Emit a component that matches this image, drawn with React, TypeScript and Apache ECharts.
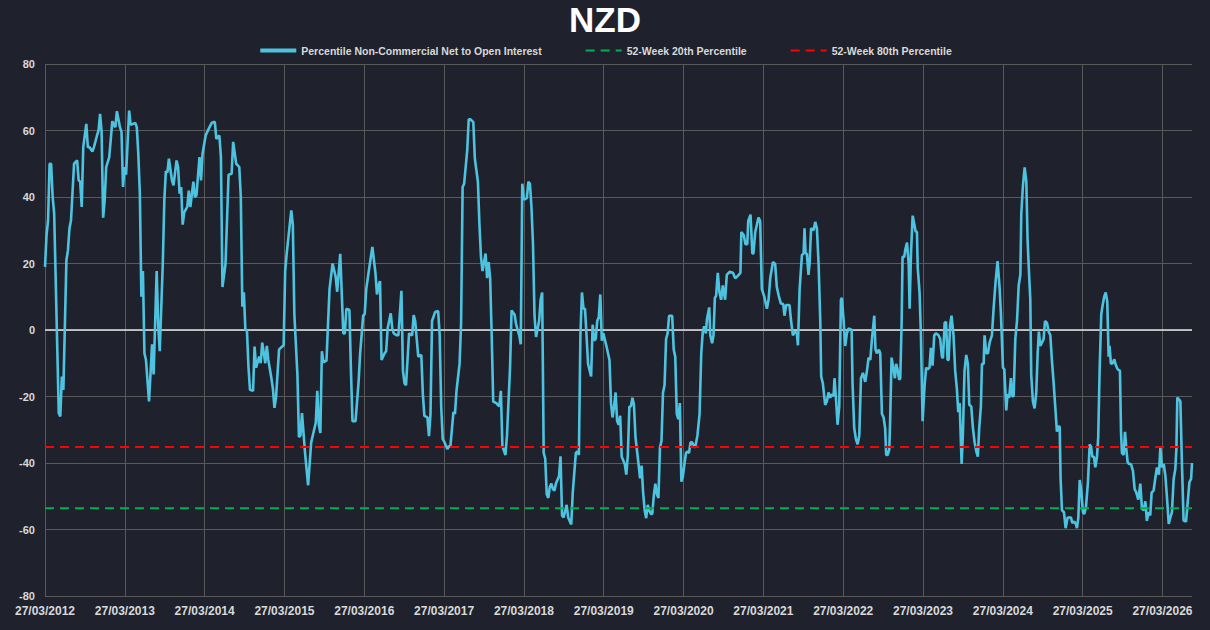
import React, { useEffect, useRef } from "react";
import * as echarts from "echarts";

const TITLE = "NZD";
const NAME_MAIN = "Percentile Non-Commercial Net to Open Interest";
const NAME_P20 = "52-Week 20th Percentile";
const NAME_P80 = "52-Week 80th Percentile";

// x = weeks since 27/03/2012
const START_YEAR = 2012;
const LABEL_DAY_MONTH = "27/03/";
const WEEKS_PER_YEAR = 365.25 / 7;
const Y_MIN = -80;
const Y_MAX = 80;
const Y_STEP = 20;

const pct20 = -53.6;
const pct80 = -35.2;
const zeroLevel = 0;

const seg2012: [number, number][] = [
  [0, 19], [1, 28.5], [2, 33], [3, 50], [4, 50], [5, 40], [6, 35], [9, -25], [10, -26], [11, -14], [12, -18],
  [14, 21], [15, 24], [16, 30.6], [17, 33], [19, 50], [21, 51], [22, 45], [23, 44.6], [24, 37], [25, 55],
  [27, 62], [28, 55], [29, 55], [31, 53.7], [32, 55], [34, 58.5], [35, 60], [36, 65], [37, 59.6], [38, 33.8],
  [39, 39], [40, 49], [42, 52], [44, 62.8], [45, 61.7], [46, 61], [47, 65.8], [49, 61], [50, 59.6], [51, 43],
];
const seg2013: [number, number][] = [
  [52, 49], [53, 46.7], [55, 66], [56, 61.7], [59, 62.3], [60, 61], [61, 53], [62, 41], [63, 10], [64, 17.7],
  [65, -7], [66, -9], [68, -21.5], [70, -4.3], [71, -13.4], [73, 17.7], [74, 1.6], [75, -6.4], [77, 19.9],
  [78, 39], [79, 47.8], [80, 47.3], [81, 51.5], [83, 45], [84, 43.5], [86, 51], [87, 49], [88, 41], [89, 43],
  [90, 31.7], [91, 35.4], [93, 37], [94, 41.9], [95, 37], [97, 44.6], [98, 40], [99, 40.5], [101, 52], [102, 45],
  [103, 53],
];
const seg2014: [number, number][] = [
  [105, 58.5], [107, 60.5], [109, 62.3], [111, 62.6], [112, 57.5], [114, 58.5], [115, 52], [116, 12.9],
  [118, 19.9], [120, 46.7], [122, 47], [123, 56.6], [125, 50], [126, 49.5], [127, 49], [128, 40], [129, 7],
  [130, 11.3], [131, 0], [132, 0], [133, -11], [134, -18], [136, -18.3], [137, -5], [138, -11.3], [140, -8],
  [141, -10], [142, -3.8], [144, -10], [145, -4.8], [146, -9], [148, -14.5], [149, -17.7], [150, -23.4],
  [151, -20.4], [153, -5.9], [154, -5.4],
];
const seg2015: [number, number][] = [
  [156, -4.6], [157, 17.7], [158, 23], [160, 31.7], [161, 36], [162, 31.7], [163, 4.8], [165, -13.4],
  [166, -32.2], [167, -31.7], [168, -25], [170, -37], [172, -46.7], [173, -40.3], [174, -33.8], [177, -27.9],
  [178, -18.3], [179, -28.5], [180, -31], [181, -6.4], [182, -9.7], [184, -9.2], [185, 1.6], [186, 12.3],
  [188, 20], [190, 16], [191, 11.5], [192, 17.2], [193, 22.9], [195, -1], [196, -1], [197, 6.4], [199, 6],
  [200, -12.3], [201, -27.4], [203, -27.4], [205, -15.6], [206, -7],
];
const seg2016: [number, number][] = [
  [208, 4.3], [209, 4.8], [210, 12.3], [212, 18.8], [214, 25], [216, 17.2], [217, 10.7], [218, 13.4],
  [219, 14.7], [220, -9], [222, -7], [223, -6.4], [224, 0.5], [226, 5], [227, 0.5], [228, -1], [230, -1.6],
  [231, -1.6], [233, 11.8], [234, -12.3], [235, -16], [236, -16.6], [238, -1], [240, -1.6], [241, 4.5],
  [242, 2.7], [243, -2.7], [244, -8], [246, -7.5], [247, -19.3], [248, -25.8], [250, -26.3], [251, -31.9],
  [252, -25.2], [253, 2.7], [255, 5.4], [257, 5.7],
];
const seg2017: [number, number][] = [
  [258, -1.6], [259, -23], [260, -32.8], [261, -33.6], [263, -35.8], [264, -35], [265, -35], [267, -24.7],
  [268, -25.2], [269, -18.3], [271, -10.2], [272, 2.1], [273, 43], [274, 44], [276, 54], [277, 63.4],
  [278, 63.4], [280, 62.5], [281, 51.5], [283, 44.6], [284, 31.7], [285, 22], [286, 17.7], [288, 23],
  [289, 15.6], [290, 20.4], [291, 15.6], [292, -1.6], [293, -21.5], [295, -22], [297, -23], [298, -18.3],
  [299, -34.9], [301, -37.6], [302, -31.7], [304, -11.3], [305, 5.9], [307, 4.6], [308, 1.6],
];
const seg2018: [number, number][] = [
  [310, -1.6], [311, -4.3], [312, 44], [313, 39.2], [315, 39.7], [316, 44.6], [317, 44], [318, 37],
  [319, 25.8], [320, 4.3], [321, -2.1], [323, 2.7], [324, 9.1], [325, 11.3], [326, -37], [327, -38.7],
  [328, -49.4], [329, -50.5], [330, -47.2], [331, -46.2], [332, -47.8], [333, -48.3], [334, -46.2], [336, -44],
  [337, -38], [338, -55.8], [339, -56.4], [341, -52.6], [342, -56.4], [344, -58.5], [345, -48.9], [347, -37],
  [348, -36.5], [349, -37.6], [350, -1.6], [351, 11.3], [352, 6.4], [353, 6.4], [354, -1.6], [355, -10.2],
  [357, -14], [358, 1.6], [359, -3.2], [360, -2.7],
];
const seg2019: [number, number][] = [
  [361, 2.7], [362, 3.8], [363, 10.7], [364, -3.2], [365, -1], [367, -4.8], [369, -9], [370, -22],
  [371, -26.3], [372, -23], [373, -18.8], [374, -27.4], [375, -28.5], [376, -25.8], [377, -38.1], [379, -40.3],
  [380, -43.5], [381, -37.6], [382, -23], [383, -23], [384, -20.4], [385, -22.5], [386, -32.2], [388, -40.3],
  [389, -44.6], [390, -40.8], [391, -48.9], [392, -54.2], [393, -56.6], [394, -52.6], [395, -54.2],
  [396, -55.3], [397, -55.3], [398, -49.7], [399, -46.2], [400, -49.4], [401, -50.5], [402, -35.4],
  [403, -33.3], [404, -18.8], [405, -16.6], [406, -2.7], [407, -1], [408, 4.3], [410, 4.3], [411, -5.9],
  [412, -8],
];
const seg2020: [number, number][] = [
  [413, -25.2], [414, -26.8], [415, -22], [416, -45.6], [417, -44], [418, -40.3], [419, -37], [420, -36.5],
  [421, -37], [422, -33.8], [423, -33.8], [425, -35.4], [426.5, -31.7], [427.9, -25.2], [429, -7], [430, -0.5],
  [430.9, 1.1], [432, -1], [432.7, 3.2], [434.2, 6.8], [434.9, -1.6], [436.1, -4], [437, -1.6], [437.9, 9.7],
  [438.7, 10.2], [439.8, 17.2], [440.9, 11.3], [442, 9.1], [443.1, 13.4], [444.6, 9.1], [445.7, 16.6],
  [447.5, 17.5], [449.7, 17.2], [451.2, 15.6], [452.3, 16], [454.6, 17.2], [455.2, 29.5], [456.8, 28.5],
  [457.9, 25.8], [459.1, 25.8], [459.7, 32.8], [461.2, 34.7], [462.4, 23], [463.1, 23],
];
const seg2021: [number, number][] = [
  [464.3, 29.5], [466.4, 33.8], [467.5, 32.8], [468.6, 12.3], [470.1, 10.2], [471.9, 6.4], [473, 9.1],
  [474.1, 15.6], [475.8, 20.4], [477.3, 19.9], [478.4, 12.9], [479.7, 10.2], [481, 8], [482.6, 7.8],
  [483.4, 4.3], [484.5, 7.5], [486.7, 7.5], [487.6, 3.2], [488.9, -1.6], [490.4, -0.5], [491.5, -1],
  [492.2, -4.6], [493.3, 12.3], [494.8, 22.5], [495.9, 23], [496.5, 30.6], [497.2, 23], [498, 23],
  [499.1, 16.6], [499.8, 19.9], [500.8, 30.6], [502.4, 30], [503.5, 32.5], [504.6, 30.6], [505.7, 19.9],
  [506.8, 2.7], [507.4, -14], [508.5, -16.1], [510, -22.5], [511.1, -21.5], [512.2, -18.8], [513.3, -20.4],
  [514.4, -19.3],
];
const seg2022: [number, number][] = [
  [515.5, -19.9], [516.1, -14.5], [517.2, -21.5], [518.1, -28.5], [519.2, -23], [520.3, 9.1], [520.9, 9.7],
  [522, 3.2], [523.1, -4.8], [524.2, -1], [525.3, 0.5], [527.3, 0], [527.9, -16.1], [529, -29.5],
  [530.1, -32.8], [531.2, -34.4], [532.3, -31.7], [533.4, -14.5], [534.7, -12.9], [536.2, -15.6],
  [537.3, -12.3], [538.4, -8.3], [539.5, -9], [540.5, -3.2], [542.1, 4.3], [542.9, -5.9], [543.8, -7],
  [545.1, -5.9], [546, -7], [547.1, -25.2], [548.2, -26.3], [549.2, -29.5], [549.9, -37.6], [550.8, -37.6],
  [551.9, -36], [552.5, -26.8], [553.4, -8.3], [554.7, -11.8], [555.6, -14.5], [556.4, -10.2], [557.3, -11.8],
  [558.4, -15], [559.1, -14.5], [560, 2.7], [560.6, 22], [561.7, 22], [562.4, 24.2], [563.5, 26.3],
  [564.6, 19.9], [565.2, 6.4],
];
const seg2023: [number, number][] = [
  [566.1, 23], [567.2, 34.4], [568.3, 31.7], [569.1, 29.7], [570, 29.5], [570.5, 18.8], [571.7, 11.3],
  [572.6, -1.6], [573.7, -27.4], [575, -16.6], [576, -11.3], [577.1, -11.8], [578.2, -11.3], [579.1, -5.4],
  [580.2, -10.7], [581.3, -1.6], [582.4, -1], [584.1, -1.6], [585.2, -2.7], [586.3, -8], [587, -8.5],
  [588.1, 2.1], [589, 2.5], [590, -9], [590.7, -9], [591.7, 1.6], [592.6, 4.3], [593.9, -1.6], [595, -12.3],
  [596.1, -17.7], [597, -24.7], [597.9, -22], [599.2, -40.3], [600, -31.7], [601.1, -12.3], [602.2, -7.5],
  [603.3, -10.2], [604.2, -22.5], [605.5, -23], [606.6, -29.5], [607.7, -33.8], [608.8, -36.5], [609.8, -38.1],
  [610.7, -29.5], [611.8, -23], [612.5, -10.2], [613.6, -10.2], [614.2, -1.6], [615.3, -7], [616.4, -7],
];
const seg2024: [number, number][] = [
  [617.5, -3.8], [619, -1.6], [620.1, 6.4], [621.4, 14.5], [622.7, 20.7], [624, 12.9], [624.9, 4.8],
  [626.2, -11.3], [627.1, -11.8], [628.4, -24.2], [629.2, -19.3], [630.3, -20.4], [631.4, -14.5],
  [632.3, -19.9], [633.2, -19.9], [634.3, -2.7], [635.4, 2.7], [636.5, 13.4], [637.6, 16.6], [638.2, 34.9],
  [639.3, 43.5], [640.4, 48.9], [641.5, 44.6], [642.3, 27.4], [643.2, 17.7], [644.1, 9.1], [644.7, -13.4],
  [645.8, -21.5], [646.9, -23.6], [648, -18.8], [648.9, -7], [649.7, -0.5], [650.6, -4.8], [651.7, -3.8],
  [652.8, -2.7], [653.7, 2.7], [655, 2.1], [656.1, -0.5], [657.2, -1.6], [658.2, -9], [659.3, -15.6],
  [660.4, -23], [661.5, -30.6], [662.2, -29], [663.3, -29], [663.9, -44.6], [664.8, -54.2], [666.1, -54.8],
  [667.2, -59.6],
];
const seg2025: [number, number][] = [
  [668.5, -56.4], [670.7, -56.4], [671.5, -58], [672.9, -57.6], [674, -58.5], [674.6, -59.6], [675.5, -56.4],
  [676.4, -45.1], [677.4, -48.3], [678.5, -54.8], [679.4, -55.3], [680.5, -53.2], [681.8, -45.6],
  [682.9, -34.4], [683.8, -35], [684.6, -38.1], [685.7, -38.1], [686.6, -41.3], [687.7, -38.1], [688.5, -32.2],
  [689.4, -12.3], [690.5, 4.8], [691.4, 7.5], [692.5, 10.2], [693.4, 11.3], [694.4, 8.6], [695.3, -8],
  [695.9, -4.8], [696.8, -10.2], [697.9, -10], [699, -8.8], [700.1, -10.7], [701.2, -11.8], [702.7, -12.3],
  [703.4, -30.6], [704, -37], [705.1, -37.6], [706, -30.6], [706.9, -36], [707.7, -39.7], [708.6, -40.3],
  [709.9, -40.3], [711.2, -42.4], [712.3, -47.8], [713.4, -48.9], [714.7, -51], [716, -46.2], [717.1, -53.7],
  [718.2, -54.2], [719.3, -51.5],
];
const seg2026: [number, number][] = [
  [720.3, -57.4], [721.4, -54.8], [722.5, -55.8], [723.4, -48.9], [724.7, -48.3], [725.8, -44.6],
  [726.9, -41.3], [728.2, -43.5], [729.1, -35.4], [730.2, -41.3], [731.3, -40.3], [732.4, -43.8],
  [733.5, -50.8], [734.6, -58.3], [735.7, -56.3], [736.7, -54.8], [737.8, -44.8], [738.9, -41.8],
  [739.6, -35.8], [740.2, -20.3], [741.5, -21], [742.2, -21.5], [743.2, -39.8], [744.3, -57.3], [745.9, -57.6],
  [747, -51.8], [748.1, -45.8], [749.2, -44.8], [749.8, -40],
];

const mainData: [number, number][] = [
  ...seg2012, ...seg2013, ...seg2014, ...seg2015, ...seg2016, ...seg2017, ...seg2018,
  ...seg2019, ...seg2020, ...seg2021, ...seg2022, ...seg2023, ...seg2024, ...seg2025, ...seg2026,
];

const X_MIN = mainData[0][0];
const X_MAX = mainData[mainData.length - 1][0];

const FONT = "'Liberation Sans', Arial, sans-serif";
const TEXT_COLOR = "#d9d9d9";
const GRID_COLOR = "#595959";
const BG = "#1f222d";
const MAIN_COLOR = "#4ec3df";

export default function App() {
  const ref = useRef<HTMLDivElement>(null);

  useEffect(() => {
    document.body.style.margin = "0";
    if (!ref.current) return;
    const chart = echarts.init(ref.current, null, { renderer: "svg" });
    const flat = (v: number): [number, number][] => [
      [X_MIN, v],
      [X_MAX, v],
    ];
    chart.setOption({
      animation: false,
      backgroundColor: BG,
      textStyle: { fontFamily: FONT },
      title: {
        text: TITLE,
        left: "center",
        top: -3,
        textStyle: { color: "#ffffff", fontSize: 35, fontWeight: "bold", fontFamily: FONT },
      },
      legend: {
        top: 40,
        left: "center",
        itemWidth: 36,
        itemHeight: 12,
        itemGap: 43,
        itemStyle: { opacity: 0 },
        textStyle: { color: TEXT_COLOR, fontSize: 10.5, fontWeight: "bold", fontFamily: FONT },
        data: [
          { name: NAME_MAIN, lineStyle: { width: 4 } },
          { name: NAME_P20 },
          { name: NAME_P80 },
        ],
      },
      grid: { left: 45, right: 18, top: 64, bottom: 34, containLabel: false },
      xAxis: {
        type: "value",
        min: X_MIN,
        max: X_MAX,
        interval: WEEKS_PER_YEAR,
        axisLine: { show: false },
        axisTick: { show: false },
        splitLine: { show: true, showMaxLine: false, lineStyle: { color: GRID_COLOR, width: 1 } },
        axisLabel: {
          color: TEXT_COLOR,
          fontSize: 12,
          fontWeight: "bold",
          fontFamily: FONT,
          margin: 9,
          showMaxLabel: false,
          formatter: (v: number) => {
            const k = Math.round(v / WEEKS_PER_YEAR);
            if (Math.abs(v - k * WEEKS_PER_YEAR) > 1) return "";
            return LABEL_DAY_MONTH + (START_YEAR + k);
          },
        },
      },
      yAxis: {
        type: "value",
        min: Y_MIN,
        max: Y_MAX,
        interval: Y_STEP,
        axisLine: { show: false },
        axisTick: { show: false },
        splitLine: { show: true, lineStyle: { color: GRID_COLOR, width: 1 } },
        axisLabel: { color: TEXT_COLOR, fontSize: 11, fontWeight: "bold", fontFamily: FONT, margin: 10 },
      },
      series: [
        {
          name: "zero",
          type: "line",
          data: flat(zeroLevel),
          symbol: "none",
          silent: true,
          z: 1,
          lineStyle: { color: "#e6e6e6", width: 1.3 },
        },
        {
          name: NAME_MAIN,
          type: "line",
          data: mainData,
          symbol: "none",
          showSymbol: false,
          z: 2,
          lineStyle: { color: MAIN_COLOR, width: 2.6 },
          itemStyle: { color: MAIN_COLOR },
        },
        {
          name: NAME_P20,
          type: "line",
          data: flat(pct20),
          symbol: "none",
          z: 3,
          lineStyle: { color: "#00b050", width: 2, type: [9, 6] },
          itemStyle: { color: "#00b050" },
        },
        {
          name: NAME_P80,
          type: "line",
          data: flat(pct80),
          symbol: "none",
          z: 3,
          lineStyle: { color: "#ff0000", width: 2, type: [9, 6] },
          itemStyle: { color: "#ff0000" },
        },
      ],
    });
    return () => chart.dispose();
  }, []);

  return <div ref={ref} style={{ width: 1210, height: 630 }} />;
}
